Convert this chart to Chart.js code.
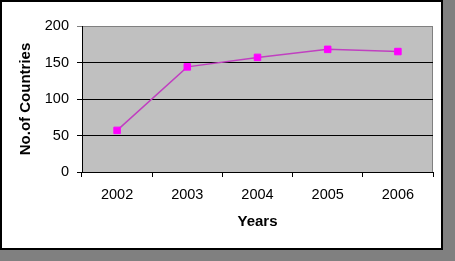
<!DOCTYPE html>
<html>
<head>
<meta charset="utf-8">
<script src="https://cdn.jsdelivr.net/npm/chart.js@4/dist/chart.umd.min.js"></script>
<style>
html,body{margin:0;padding:0;background:#808080;}
#wrap{width:455px;height:261px;position:relative;}
</style>
</head>
<body>
<div id="wrap"><canvas id="c" width="455" height="261"></canvas></div>
<script>
const categories = ['2002', '2003', '2004', '2005', '2006'];
const countries = [57, 144, 157, 168, 165];
const yTicks = [0, 50, 100, 150, 200];
const xTitle = 'Years';
const yTitle = 'No.of Countries';

const FONT = "'Liberation Sans', Arial, sans-serif";

const frame = {
  id: 'frame',
  beforeDraw(chart) {
    const ctx = chart.ctx;
    ctx.save();
    ctx.fillStyle = '#808080';
    ctx.fillRect(0, 0, chart.width, chart.height);
    ctx.fillStyle = '#000000';
    ctx.fillRect(0, 0, 443, 250);
    ctx.fillStyle = '#ffffff';
    ctx.fillRect(2, 2, 439, 246);
    const a = chart.chartArea;
    ctx.fillStyle = '#C0C0C0';
    ctx.fillRect(a.left, a.top, a.right - a.left, a.bottom - a.top);
    ctx.strokeStyle = '#808080';
    ctx.lineWidth = 1;
    ctx.beginPath();
    ctx.moveTo(Math.round(a.left) + 0.5, Math.round(a.top) + 0.5);
    ctx.lineTo(Math.round(a.right) - 0.5, Math.round(a.top) + 0.5);
    ctx.lineTo(Math.round(a.right) - 0.5, Math.round(a.bottom));
    ctx.stroke();
    ctx.restore();
  }
};

new Chart(document.getElementById('c'), {
  type: 'line',
  data: {
    labels: categories,
    datasets: [{
      data: countries,
      borderColor: '#c040c0',
      borderWidth: 1.5,
      tension: 0,
      pointStyle: 'rect',
      pointRadius: 4.6,
      pointBackgroundColor: '#ff00ff',
      pointBorderColor: '#ff00ff',
      pointBorderWidth: 1
    }]
  },
  options: {
    responsive: false,
    animation: false,
    devicePixelRatio: 1,
    layout: { padding: { left: 0, top: 26, right: 22, bottom: 0 } },
    plugins: { legend: { display: false }, tooltip: { enabled: false } },
    scales: {
      x: {
        offset: true,
        grid: { offset: true, drawOnChartArea: false, drawTicks: true, tickLength: 5, color: '#000000' },
        border: { color: '#000000', width: 1 },
        ticks: { color: '#000000', padding: 9, font: { family: FONT, size: 14.5 }, maxRotation: 0 },
        title: { display: true, text: xTitle, color: '#000000', font: { family: FONT, size: 15, weight: 'bold' }, padding: { top: 0, bottom: 30 } },
        afterFit(s) { s.height = 89; }
      },
      y: {
        min: 0, max: 200,
        afterBuildTicks(s) { s.ticks = yTicks.map(v => ({ value: v })); },
        grid: {
          drawTicks: true, tickLength: 5,
          color: ctx => (ctx.tick && ctx.tick.value === 200) ? '#808080' : '#000000'
        },
        border: { color: '#000000', width: 1 },
        ticks: { color: '#000000', padding: 8, font: { family: FONT, size: 14.5 } },
        title: { display: true, text: yTitle, color: '#000000', font: { family: FONT, size: 15, weight: 'bold' }, padding: { top: 17, bottom: 0 } },
        afterFit(s) { s.width = 82; }
      }
    }
  },
  plugins: [frame]
});
</script>
</body>
</html>
